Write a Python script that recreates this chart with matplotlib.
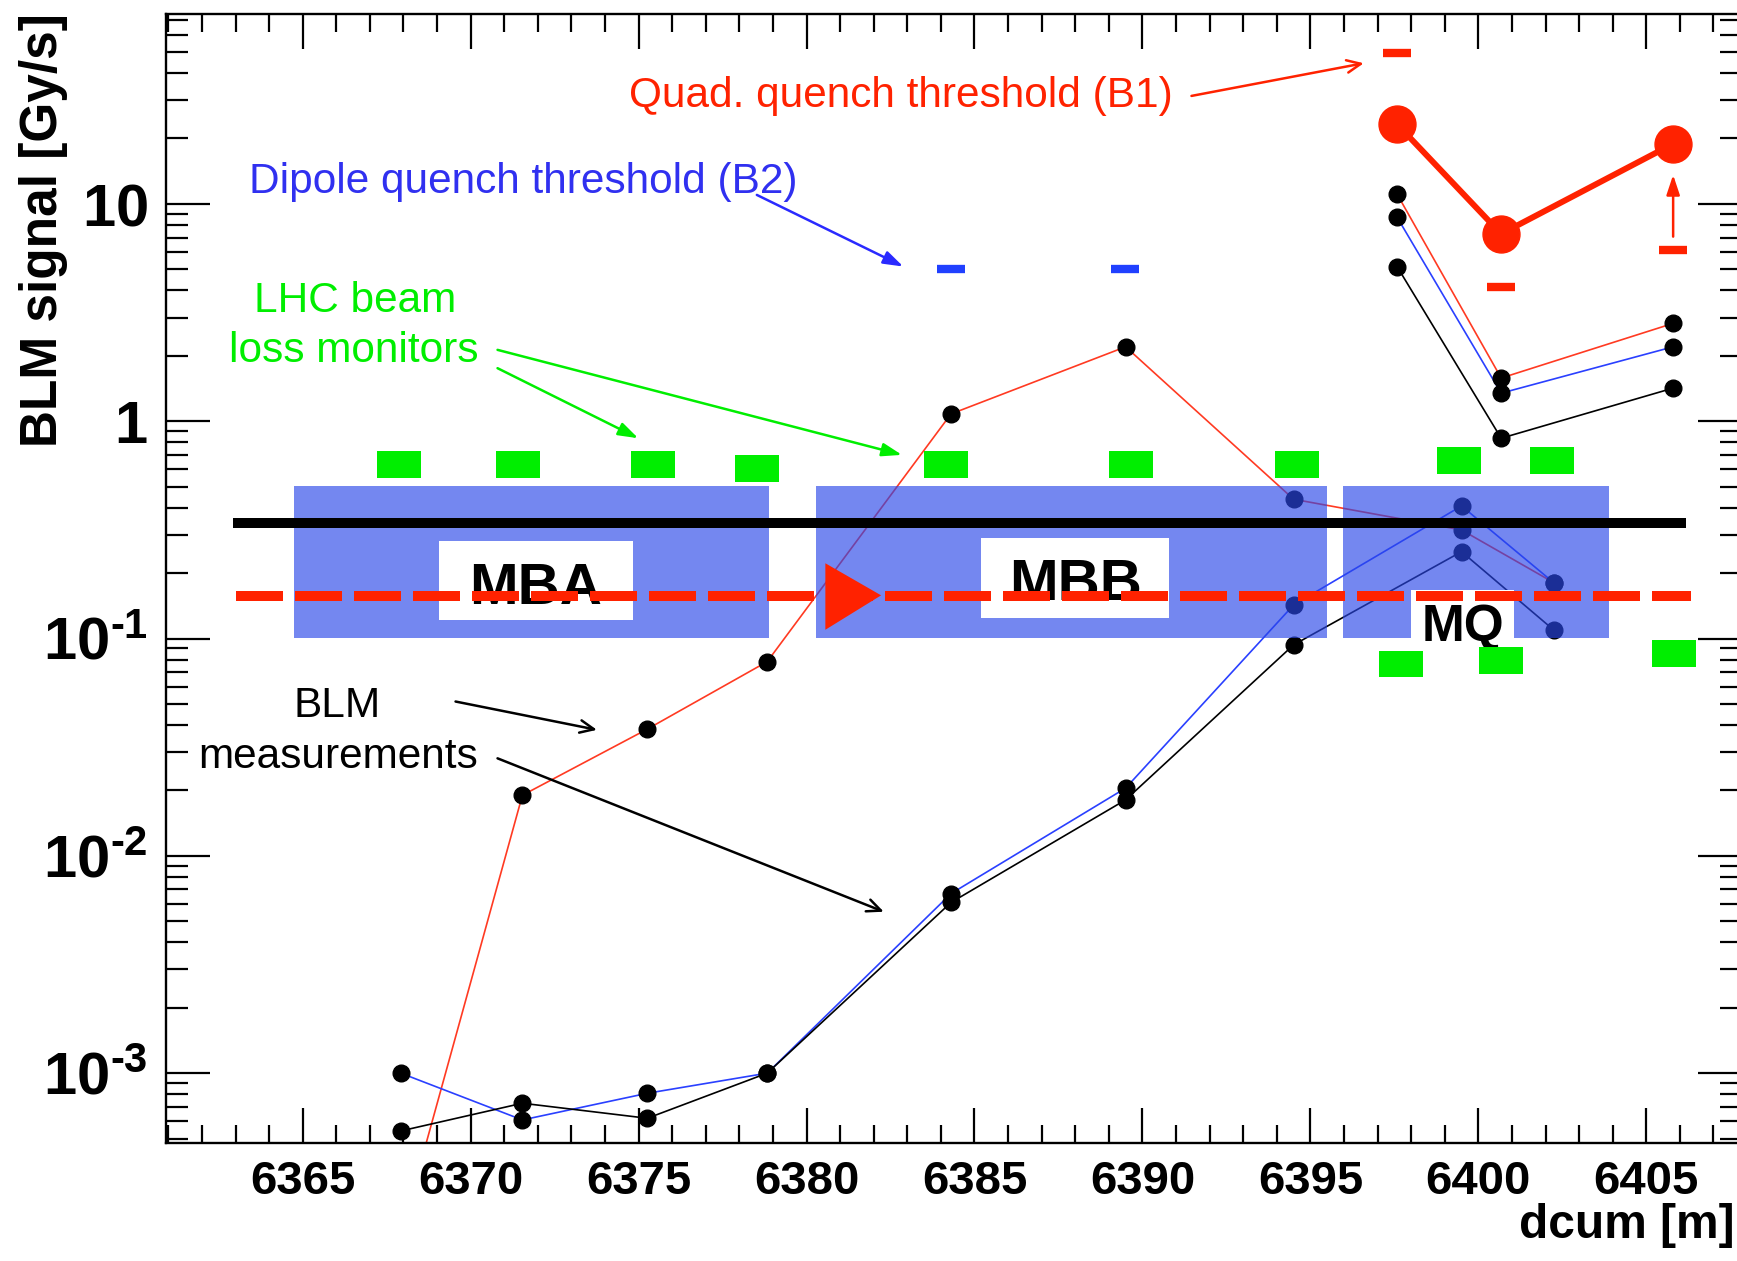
import numpy as np
import matplotlib
matplotlib.use('Agg')
import matplotlib.pyplot as plt
from matplotlib.patches import Rectangle, Polygon
from matplotlib.ticker import FixedLocator, FixedFormatter, MultipleLocator, LogLocator, NullFormatter

plt.rcParams['font.family'] = ['Liberation Sans', 'DejaVu Sans']
plt.rcParams['mathtext.fontset'] = 'custom'
plt.rcParams['mathtext.rm'] = 'Liberation Sans:bold'
plt.rcParams['mathtext.bf'] = 'Liberation Sans:bold'
plt.rcParams['mathtext.default'] = 'rm'

# ---------------- data ----------------
# BLM positions along the arc (dipole region + quadrupole approach)
pos_main = [6367.92, 6371.54, 6375.26, 6378.83, 6384.30, 6389.50, 6394.50, 6399.50, 6402.24]
red_main = [1.8e-4, 0.0190, 0.0383, 0.0783, 1.08, 2.20, 0.4375, 0.316, 0.181]
blue_main = [1.0e-3, 6.09e-4, 8.08e-4, 1.0e-3, 6.7e-3, 0.0205, 0.1427, 0.4075, 0.181]
black_main = [5.42e-4, 7.27e-4, 6.2e-4, 1.0e-3, 6.1e-3, 0.0181, 0.0935, 0.251, 0.1096]

# quadrupole BLMs
pos_quad = [6397.58, 6400.68, 6405.80]
red_quad = [11.1, 1.58, 2.82]
blue_quad = [8.69, 1.346, 2.20]
black_quad = [5.15, 0.835, 1.42]

# quench thresholds
quad_thr_b1 = [23.3, 7.28, 18.9]
quad_thr_marks = [49.7, 4.15, 6.16]
dip_thr_pos = [6384.29, 6389.49]
dip_thr_b2 = [5.01, 5.01]

# LHC beam loss monitor locations (green)
mon_upper_pos = [6367.87, 6371.41, 6375.44, 6378.53, 6384.15, 6389.66, 6394.60, 6399.42, 6402.19]
mon_upper_lvl = [0.634, 0.634, 0.634, 0.607, 0.634, 0.634, 0.634, 0.661, 0.661]
mon_lower_pos = [6397.70, 6400.68, 6405.84]
mon_lower_lvl = [0.0764, 0.0792, 0.0855]

# magnets
magnet_names = ['MBA', 'MBB', 'MQ']
magnet_start = [6364.74, 6380.28, 6395.97]
magnet_end = [6378.88, 6395.48, 6403.89]

xticks = [6365, 6370, 6375, 6380, 6385, 6390, 6395, 6400, 6405]
yticks = [1e-3, 1e-2, 1e-1, 1, 10]
yticklabels = [r'$10^{\text{-}3}$', r'$10^{\text{-}2}$', r'$10^{\text{-}1}$', r'$1$', r'$10$']

# ---------------- styles ----------------
RED = '#ff2200'
RED_LINE = '#ff3a22'
BLUE_LINE = '#2a40ff'
BLUE_TXT = '#3030f0'
GREEN = '#00ee00'
BOX = (0.165, 0.28, 0.91)

fig = plt.figure(figsize=(17.37, 12.61), dpi=100)
ax = fig.add_axes([166/1737, 1 - 1143.3/1261, (1742 - 166)/1737, (1143.3 - 14)/1261])
ax.set_yscale('log')
ax.set_xlim(6360.93, 6407.85)
ax.set_ylim(4.755e-4, 74.8)

# measurement series
for xs, ys, col in [(pos_main, red_main, RED_LINE), (pos_main, blue_main, BLUE_LINE),
                    (pos_main, black_main, 'black'), (pos_quad, red_quad, RED_LINE),
                    (pos_quad, blue_quad, BLUE_LINE), (pos_quad, black_quad, 'black')]:
    ax.plot(xs, ys, color=col, lw=1.2, zorder=2)
for xs, ys in [(pos_main, red_main), (pos_main, blue_main), (pos_main, black_main),
               (pos_quad, red_quad), (pos_quad, blue_quad), (pos_quad, black_quad)]:
    ax.plot(xs, ys, ls='none', marker='o', ms=12, mfc='black', mec='black', zorder=2.5)

# magnet boxes
box_lo, box_hi = 0.1003, 0.504
for x0, x1 in zip(magnet_start, magnet_end):
    ax.add_patch(Rectangle((x0, box_lo), x1 - x0, box_hi - box_lo, facecolor=BOX,
                           alpha=0.65, edgecolor='none', zorder=3))
# label cutouts
cut_x0 = [6369.07, 6385.20, 6398.01]
cut_x1 = [6374.84, 6390.79, 6401.07]
cut_y0 = [0.1218, 0.1240, 0.1003]
cut_y1 = [0.282, 0.289, 0.1675]
for a, b, c, d in zip(cut_x0, cut_x1, cut_y0, cut_y1):
    ax.add_patch(Rectangle((a, c), b - a, d - c, facecolor='white', edgecolor='none', zorder=4))
ax.text(6371.94, 0.1688, 'MBA', ha='center', va='center', fontsize=42, fontweight='bold', zorder=5)
ax.text(6388.0, 0.1755, 'MBB', ha='center', va='center', fontsize=42, fontweight='bold', zorder=5)
ax.text(6399.54, 0.1125, 'MQ', ha='center', va='center', fontsize=37, fontweight='bold', zorder=5)

# beam lines
ax.plot([6362.92, 6406.18], [0.340, 0.340], color='black', lw=7.2, solid_capstyle='butt', zorder=6)
ax.plot([6363.0, 6406.33], [0.1575, 0.1575], color=RED, lw=7.2, dashes=(4.7, 1.2),
        dash_capstyle='butt', zorder=6)
ax.add_patch(Polygon([[6380.56, 0.222], [6380.56, 0.1097], [6382.22, 0.158]],
                     closed=True, facecolor=RED, edgecolor='none', zorder=7))

# green monitors
hw = 0.655
hh = 10**0.0615
for xs, ls in [(mon_upper_pos, mon_upper_lvl), (mon_lower_pos, mon_lower_lvl)]:
    for x, l in zip(xs, ls):
        ax.add_patch(Rectangle((x - hw, l/hh), 2*hw, l*hh - l/hh, facecolor=GREEN,
                               edgecolor='none', zorder=5))

# thresholds
ax.plot(pos_quad, quad_thr_b1, color=RED, lw=4.3, marker='o', ms=26.6, zorder=5)
ax.plot(pos_quad, quad_thr_marks, ls='none', marker='_', ms=20, mew=6, color=RED, zorder=5)
ax.plot(dip_thr_pos, dip_thr_b2, ls='none', marker='_', ms=20, mew=6, color='#2040ff', zorder=5)

# annotations
FS = 30.5
ax.text(6382.81, 28.05, 'Quad. quench threshold (B1)', color=RED, fontsize=FS, ha='center', va='baseline')
ax.text(6371.56, 11.27, 'Dipole quench threshold (B2)', color=BLUE_TXT, fontsize=FS, ha='center', va='baseline')
ax.text(6366.55, 3.195, 'LHC beam', color=GREEN, fontsize=FS, ha='center', va='baseline')
ax.text(6366.53, 1.88, 'loss monitors', color=GREEN, fontsize=FS, ha='center', va='baseline')
ax.text(6366.03, 0.0437, 'BLM', color='black', fontsize=FS, ha='center', va='baseline')
ax.text(6366.05, 0.0253, 'measurements', color='black', fontsize=FS, ha='center', va='baseline')

def arrow(start, tip, col, style):
    ax.annotate('', xy=tip, xytext=start,
                arrowprops=dict(arrowstyle=style, color=col, lw=1.8, shrinkA=0, shrinkB=0),
                zorder=8)

filled = '-|>,head_length=1.2,head_width=0.4'
opened = '->,head_length=1.0,head_width=0.45'
arrow((6391.46, 31.4), (6396.59, 44.4), RED, opened)
arrow((6405.8, 7.07), (6405.8, 13.6), RED, filled)
arrow((6378.52, 11.0), (6382.88, 5.15), '#2a2aff', filled)
arrow((6370.8, 2.13), (6382.84, 0.70), GREEN, filled)
arrow((6370.8, 1.754), (6374.99, 0.835), GREEN, filled)
arrow((6369.55, 0.0513), (6373.76, 0.038), 'black', opened)
arrow((6370.8, 0.0281), (6382.3, 0.00553), 'black', opened)

# axes styling
ax.xaxis.set_major_locator(FixedLocator(xticks))
ax.xaxis.set_minor_locator(MultipleLocator(1))
ax.yaxis.set_major_locator(FixedLocator(yticks))
ax.yaxis.set_major_formatter(FixedFormatter(yticklabels))
ax.yaxis.set_minor_locator(LogLocator(base=10, subs=np.arange(2, 10), numticks=20))
ax.yaxis.set_minor_formatter(NullFormatter())
ax.tick_params(axis='x', which='major', direction='in', top=True, bottom=True, length=25, width=1.6,
               labelsize=34, pad=12)
ax.tick_params(axis='x', which='minor', direction='in', top=True, bottom=True, length=13, width=1.6)
ax.tick_params(axis='y', which='major', direction='in', left=True, right=True, length=31.7, width=1.6,
               labelsize=43, pad=13)
ax.tick_params(axis='y', which='minor', direction='in', left=True, right=True, length=15.8, width=1.6)
for lab in ax.get_xticklabels():
    lab.set_fontweight('bold')
for sp in ax.spines.values():
    sp.set_linewidth(1.7)

fig.text(57.4/1737, 1 - 13/1261, 'BLM signal [Gy/s]', rotation=90, rotation_mode='anchor',
         ha='right', va='baseline', fontsize=37, fontweight='bold')
fig.text(1735/1737, 1 - 1238/1261, 'dcum [m]', ha='right', va='baseline', fontsize=34.5, fontweight='bold')

fig.savefig('out.png', dpi=100)
